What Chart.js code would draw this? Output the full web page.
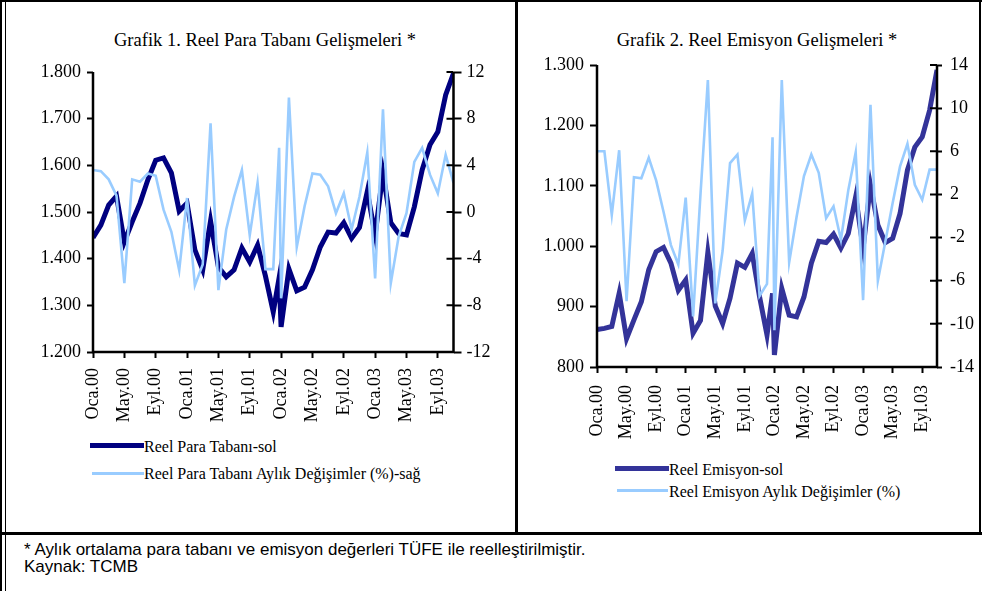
<!DOCTYPE html>
<html>
<head>
<meta charset="utf-8">
<script src="https://cdn.jsdelivr.net/npm/chart.js@4/dist/chart.umd.min.js"></script>
<style>
  html, body { margin: 0; padding: 0; background: #fff; }
  #page { position: relative; width: 982px; height: 591px; overflow: hidden; background: #fff; }
  .rule { position: absolute; background: #000; z-index: 5; }
  canvas { position: absolute; }
  .title { position: absolute; font-family: "Liberation Serif", "Times New Roman", serif; font-size: 18.5px; color: #000; white-space: nowrap; transform: translateX(-50%); line-height: 1; }
  .leg { position: absolute; font-family: "Liberation Serif", "Times New Roman", serif; font-size: 16px; color: #000; white-space: nowrap; line-height: 1; }
  .sw { position: absolute; }
  .note { position: absolute; font-family: "Liberation Sans", Arial, sans-serif; font-size: 17px; color: #000; white-space: nowrap; line-height: 1; }
</style>
</head>
<body>
<div id="page">
  <!-- frame -->
  <div class="rule" style="left:0;top:0;width:982px;height:2px"></div>
  <div class="rule" style="left:0;top:0;width:2px;height:591px"></div>
  <div class="rule" style="left:5px;top:0;width:1px;height:591px"></div>
  <div class="rule" style="left:979px;top:0;width:2px;height:534px"></div>
  <div class="rule" style="left:515px;top:0;width:3px;height:534px"></div>
  <div class="rule" style="left:0;top:532px;width:982px;height:3px"></div>

  <div class="title" style="left:265px;top:31px">Grafik 1. Reel Para Tabanı Gelişmeleri *</div>
  <div class="title" style="left:757px;top:31px">Grafik 2. Reel Emisyon Gelişmeleri *</div>

  <canvas id="c1" width="517" height="430" style="left:0;top:0"></canvas>
  <canvas id="c2" width="465" height="440" style="left:517px;top:0"></canvas>

  <!-- legends -->
  <div class="sw" style="left:90px;top:443px;width:54px;height:5px;background:#000080"></div>
  <div class="leg" style="left:144px;top:439px">Reel Para Tabanı-sol</div>
  <div class="sw" style="left:92px;top:472px;width:52px;height:3px;background:#99CCFF"></div>
  <div class="leg" style="left:144px;top:466px">Reel Para Tabanı Aylık Değişimler (%)-sağ</div>

  <div class="sw" style="left:615px;top:466px;width:54px;height:5px;background:#333399"></div>
  <div class="leg" style="left:669px;top:462px">Reel Emisyon-sol</div>
  <div class="sw" style="left:617px;top:489px;width:51px;height:3px;background:#99CCFF"></div>
  <div class="leg" style="left:669px;top:484px">Reel Emisyon Aylık Değişimler (%)</div>

  <div class="note" style="left:24px;top:541px">* Aylık ortalama para tabanı ve emisyon değerleri TÜFE ile reelleştirilmiştir.</div>
  <div class="note" style="left:24px;top:558px">Kaynak: TCMB</div>
</div>

<script>
// Observation position on the time axis, in months after Oca.00
// (late December 2001 carries an additional observation).
const obsMonths = [0, 1, 2, 3, 4, 5, 6, 7, 8, 9, 10, 11, 12, 13, 14, 15, 16, 17, 18, 19, 20, 21, 22, 23, 23.75,
                   24, 25, 26, 27, 28, 29, 30, 31, 32, 33, 34, 35, 36, 37, 38, 39, 40, 41, 42, 43, 44, 45, 46];

// Axis labels, one every four months
const monthLabels = ['Oca.00', 'May.00', 'Eyl.00', 'Oca.01', 'May.01', 'Eyl.01',
                     'Oca.02', 'May.02', 'Eyl.02', 'Oca.03', 'May.03', 'Eyl.03'];

// Grafik 1: real monetary base (left axis) and its monthly change in % (right axis)
const paraTabani = [1.445, 1.472, 1.515, 1.534, 1.436, 1.479, 1.519, 1.569, 1.611, 1.616, 1.584, 1.502,
                    1.519, 1.419, 1.376, 1.481, 1.382, 1.361, 1.376, 1.423, 1.393, 1.429, 1.363, 1.286, 1.359,
                    1.254, 1.378, 1.331, 1.339, 1.376, 1.425, 1.457, 1.455, 1.477, 1.444, 1.467, 1.544,
                    1.451, 1.583, 1.477, 1.454, 1.451, 1.511, 1.590, 1.644, 1.672, 1.751, 1.797];
const paraTabaniDegisim = [3.6, 3.5, 2.8, 1.4, -6.1, 2.8, 2.6, 3.3, 3.1, 0.2, -1.7, -5.0,
                           1.2, -6.3, -4.5, 7.6, -6.7, -1.5, 1.3, 3.6, -2.0, 2.5, -4.9, -4.9, 5.5,
                           -7.4, 9.8, -3.0, 0.5, 3.3, 3.2, 2.2, -0.1, 1.6, -1.5, 1.3, 5.1,
                           -5.7, 8.8, -6.1, -2.1, -0.1, 4.3, 5.5, 3.2, 1.6, 4.9, 2.5];

// Grafik 2: real currency issued (left axis) and its monthly change in % (right axis)
const emisyon = [862, 864, 867, 922, 847, 878, 908, 961, 991, 998, 972, 927,
                 944, 856, 877, 990, 901, 872, 914, 972, 965, 988, 916, 853, 922,
                 820, 930, 886, 883, 916, 972, 1008, 1006, 1020, 997, 1021, 1082,
                 997, 1101, 1035, 1006, 1013, 1054, 1126, 1164, 1181, 1225, 1292];
const emisyonDegisim = [6.0, 6.0, 0.1, 6.1, -7.9, 3.6, 3.5, 5.4, 3.3, 0.4, -2.7, -4.5,
                        1.7, -9.3, 2.0, 12.6, -8.1, -3.2, 4.9, 5.7, -0.4, 2.1, -7.4, -6.3, 7.3,
                        -10.6, 12.6, -4.3, -0.1, 3.7, 5.7, 4.0, -0.2, 0.9, -2.2, 2.4, 5.9,
                        -7.8, 10.3, -6.0, -2.4, 1.2, 4.6, 6.7, 2.9, 1.5, 4.3, 4.3];

const points = (vals) => vals.map((v, i) => ({ x: obsMonths[i], y: v }));
const trFormat = (v) => {
  // Turkish style: dot as thousands separator
  return Math.round(v).toString().replace(/\B(?=(\d{3})+(?!\d))/g, '.');
};

// Axis lines on top of the series, plus inward ticks on the right axis
const axisOverlay = {
  id: 'axisOverlay',
  afterDatasetsDraw(chart) {
    const { ctx, chartArea: a } = chart;
    const r = chart.scales.yR;
    ctx.save();
    ctx.strokeStyle = '#000';
    ctx.lineWidth = 2.5;
    ctx.beginPath();
    ctx.moveTo(a.left, a.top); ctx.lineTo(a.left, a.bottom);
    ctx.moveTo(a.left - 1, a.bottom); ctx.lineTo(a.right + 1, a.bottom);
    ctx.moveTo(a.right, a.top); ctx.lineTo(a.right, a.bottom);
    ctx.stroke();
    ctx.lineWidth = 2;
    ctx.beginPath();
    r.ticks.forEach(t => {
      const y = r.getPixelForValue(t.value);
      ctx.moveTo(a.right - 7, y); ctx.lineTo(a.right, y);
    });
    ctx.stroke();
    ctx.restore();
  }
};

function makeChart(id, cfg) {
  const tickFont = { family: '"Liberation Serif", "Times New Roman", serif', size: 18 };
  return new Chart(document.getElementById(id), {
    type: 'line',
    data: {
      datasets: [
        { data: points(cfg.change), borderColor: '#99CCFF', borderWidth: 2.6, pointRadius: 0,
          tension: 0, yAxisID: 'yR', order: 0, clip: { left: 0, right: 0, top: 4, bottom: 4 } },
        { data: points(cfg.level), borderColor: cfg.levelColor, borderWidth: 5, pointRadius: 0,
          tension: 0, yAxisID: 'yL', order: 1, clip: { left: 0, right: 0, top: 4, bottom: 4 } }
      ]
    },
    options: {
      responsive: false,
      animation: false,
      events: [],
      layout: { padding: { top: cfg.top, left: 0, right: 0, bottom: 0 } },
      plugins: { legend: { display: false }, tooltip: { enabled: false } },
      scales: {
        x: {
          type: 'linear', min: 0, max: 46,
          afterFit: (s) => { s.height = cfg.xHeight; },
          border: { display: false },
          grid: { drawOnChartArea: false, tickLength: 6, tickWidth: 2, color: '#000' },
          ticks: {
            stepSize: 4, includeBounds: false, autoSkip: false,
            minRotation: 90, maxRotation: 90, padding: cfg.xPad,
            color: '#000', font: tickFont,
            callback: (v) => monthLabels[Math.round(v / 4)] || ''
          }
        },
        yL: {
          position: 'left', min: cfg.lMin, max: cfg.lMax,
          afterFit: (s) => { s.width = cfg.lWidth; },
          border: { display: false },
          grid: { drawOnChartArea: false, tickLength: cfg.lTick, tickWidth: 2, color: '#000' },
          ticks: { stepSize: cfg.lStep, padding: 6, color: '#000', font: tickFont, callback: cfg.lFmt }
        },
        yR: {
          position: 'right', min: cfg.rMin, max: cfg.rMax,
          afterFit: (s) => { s.width = cfg.rWidth; },
          border: { display: false },
          grid: { drawOnChartArea: false, tickLength: cfg.rTick, tickWidth: 2, color: '#000' },
          ticks: { stepSize: 4, padding: cfg.rPad, color: '#000', font: tickFont }
        }
      }
    },
    plugins: [axisOverlay]
  });
}

makeChart('c1', {
  level: paraTabani, change: paraTabaniDegisim, levelColor: '#000080',
  top: 72, xHeight: 78, xPad: 10, lWidth: 93, lTick: 6, rWidth: 63.5, rTick: 8, rPad: 5,
  lMin: 1.2, lMax: 1.8, lStep: 0.1, lFmt: (v) => v.toFixed(3),
  rMin: -12, rMax: 12
});

makeChart('c2', {
  level: emisyon, change: emisyonDegisim, levelColor: '#333399',
  top: 65, xHeight: 73, xPad: 12, lWidth: 80, lTick: 7, rWidth: 45, rTick: 5, rPad: 8,
  lMin: 800, lMax: 1300, lStep: 100, lFmt: trFormat,
  rMin: -14, rMax: 14
});
</script>
</body>
</html>
